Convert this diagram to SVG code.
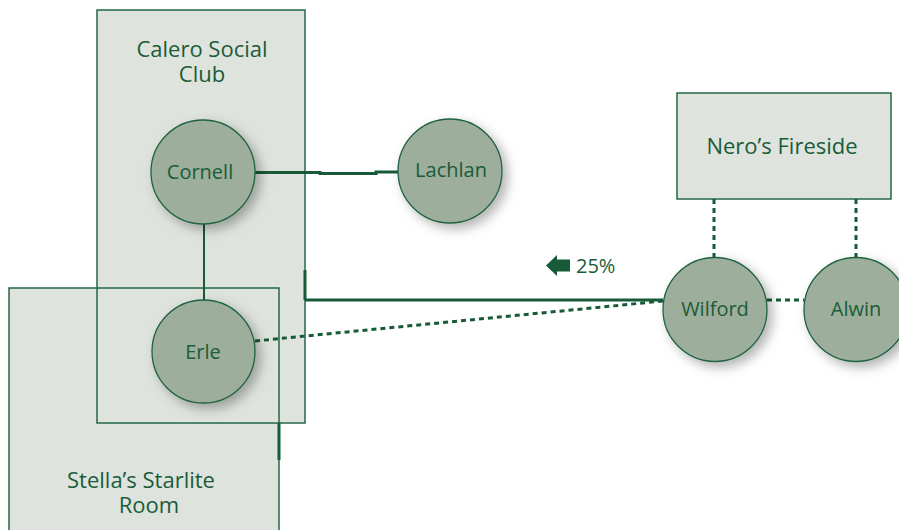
<svg xmlns="http://www.w3.org/2000/svg" width="899" height="530" viewBox="0 0 899 530">
<style>
.grp{fill:#dee3dd;stroke:#246845;stroke-width:1.5;}
.fillonly{fill:#dee3dd;stroke:none;}
.outline{fill:none;stroke:#246845;stroke-width:1.5;}
.node{fill:#9dae9c;stroke:#1f6240;stroke-width:1.3;}
.lbl{font-family:"Open Sans","Noto Sans",sans-serif;fill:#1a5c38;text-anchor:middle;}
.nl{font-size:20px;}
.gl{font-size:22px;}
.solid{stroke:#175a37;stroke-width:2;fill:none;}
.thick{stroke:#175a37;stroke-width:3;fill:none;}
.dot{stroke:#175a37;stroke-width:3;stroke-dasharray:5 4;fill:none;}
</style>
<defs>
<filter id="sh" x="-40%" y="-40%" width="190%" height="190%">
<feDropShadow dx="5" dy="5" stdDeviation="6" flood-color="#000" flood-opacity="0.3"/>
</filter>
</defs>
<rect width="899" height="530" fill="#ffffff"/>
<g id="calero">
<rect class="fillonly" x="97" y="10" width="208" height="413"/>
<text class="lbl gl" x="202" y="57">Calero Social</text>
<text class="lbl gl" x="202" y="82">Club</text>
</g>
<g id="stella">
<rect class="fillonly" x="9" y="288" width="270" height="260"/>
<rect class="outline" x="9" y="288" width="270" height="260"/>
<text class="lbl gl" x="141" y="488">Stella’s Starlite</text>
<text class="lbl gl" x="149" y="513">Room</text>
</g>
<g id="calero-outline">
<rect class="outline" x="97" y="10" width="208" height="413"/>
</g>
<g id="nero">
<rect class="grp" x="677" y="93" width="214" height="106"/>
<text class="lbl gl" x="782" y="154">Nero’s Fireside</text>
</g>
<g id="connectors">
<path class="thick" d="M255 172.5 H320 V173.5 H376 V172 H398"/>
<path class="solid" d="M204 224 V300"/>
<path class="thick" d="M663 300 H305 M305 270 V300"/>
<path class="thick" d="M279 423 V460"/>
<path class="dot" d="M255 341 L663 301"/>
<path class="dot" d="M714 199 V257"/>
<path class="dot" d="M856 199 V257"/>
<path class="dot" d="M767 300 H804"/>
</g>
<g id="flow">
<path d="M546 265.5 L557 255 V259.5 H570 V271.5 H557 V276 Z" fill="#175a37"/>
<text x="576" y="273" font-family="Open Sans, Noto Sans, sans-serif" font-size="20" fill="#1a5c38">25%</text>
</g>
<g id="cornell">
<circle class="node" cx="203" cy="172" r="52" filter="url(#sh)"/>
<text class="lbl nl" x="200" y="179">Cornell</text>
</g>
<g id="lachlan">
<circle class="node" cx="450" cy="171" r="52" filter="url(#sh)"/>
<text class="lbl nl" x="451" y="177">Lachlan</text>
</g>
<g id="erle">
<circle class="node" cx="203.5" cy="351.5" r="51.5" filter="url(#sh)"/>
<text class="lbl nl" x="203" y="359">Erle</text>
</g>
<g id="wilford">
<circle class="node" cx="715" cy="309.5" r="52" filter="url(#sh)"/>
<text class="lbl nl" x="715" y="316">Wilford</text>
</g>
<g id="alwin">
<circle class="node" cx="856" cy="309.5" r="52" filter="url(#sh)"/>
<text class="lbl nl" x="856" y="316">Alwin</text>
</g>
</svg>
